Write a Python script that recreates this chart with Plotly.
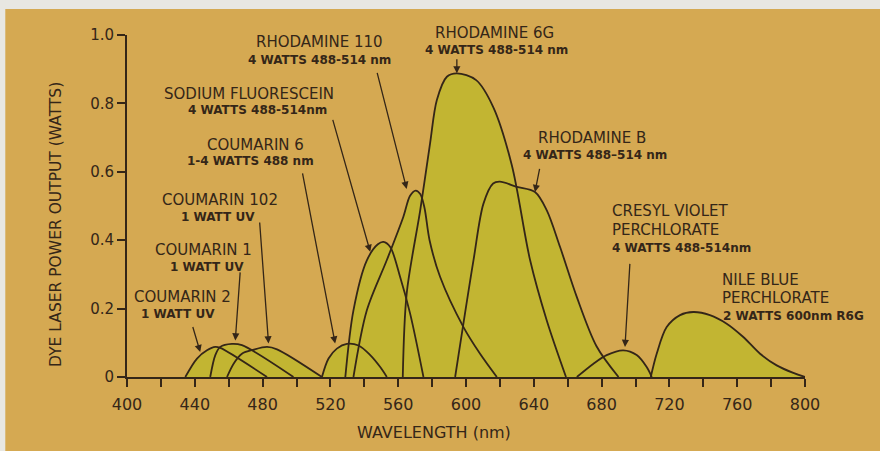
import plotly.graph_objects as go

# ---------------- data ----------------
coumarin2_nm = [434.4, 441.3, 447.2, 452.1, 455.0, 482.6]
coumarin2_w = [0.0, 0.054, 0.078, 0.088, 0.085, 0.0]

coumarin1_nm = [449.1, 452.1, 455.0, 461.9, 467.8, 498.2]
coumarin1_w = [0.0, 0.064, 0.088, 0.097, 0.093, 0.0]

coumarin102_nm = [459.0, 462.9, 467.8, 474.7, 482.6, 488.5, 515.0]
coumarin102_w = [0.0, 0.039, 0.068, 0.080, 0.088, 0.081, 0.0]

coumarin6_nm = [515.0, 518.9, 523.8, 529.7, 536.6, 543.5, 549.4, 553.3]
coumarin6_w = [0.0, 0.054, 0.083, 0.097, 0.092, 0.064, 0.029, 0.0]

fluorescein_nm = [528.8, 533.6, 541.5, 548.0, 551.3, 555.3, 561.1, 567.0, 574.9]
fluorescein_w = [0.0, 0.195, 0.341, 0.388, 0.395, 0.380, 0.293, 0.186, 0.0]

rhod110_nm = [533.6, 541.5, 553.3, 563.0, 567.0, 570.3, 573.0, 575.5, 578.5, 584.7, 598.5, 608.3, 618.2]
rhod110_w = [0.0, 0.195, 0.342, 0.468, 0.530, 0.545, 0.535, 0.495, 0.400, 0.293, 0.146, 0.068, 0.0]

rhod6g_nm = [562.7, 565.0, 573.0, 578.8, 582.8, 588.7, 594.6, 606.0, 616.0, 627.0, 637.8, 647.6, 659.0]
rhod6g_w = [0.0, 0.244, 0.488, 0.683, 0.810, 0.878, 0.888, 0.868, 0.790, 0.620, 0.342, 0.166, 0.0]

rhodb_nm = [593.6, 604.4, 610.3, 616.0, 620.0, 630.0, 640.7, 647.6, 655.5, 665.3, 677.0, 690.0]
rhodb_w = [0.0, 0.341, 0.507, 0.566, 0.571, 0.556, 0.541, 0.488, 0.380, 0.235, 0.090, 0.0]

cresyl_nm = [665.4, 675.2, 683.0, 692.8, 700.7, 706.6, 709.6]
cresyl_w = [0.0, 0.039, 0.064, 0.078, 0.064, 0.029, 0.0]

nile_nm = [709.0, 712.5, 718.4, 726.3, 734.1, 743.9, 753.8, 763.6, 773.5, 783.3, 793.1, 800.0]
nile_w = [0.0, 0.068, 0.146, 0.181, 0.190, 0.181, 0.156, 0.117, 0.068, 0.034, 0.012, 0.0]

x_tick_values = list(range(400, 801, 20))
x_tick_labels = [str(v) if v % 40 == 0 else "" for v in x_tick_values]
y_tick_values = [0, 0.2, 0.4, 0.6, 0.8, 1.0]
y_tick_labels = ["0", "0.2", "0.4", "0.6", "0.8", "1.0"]

curves = [
    (coumarin2_nm, coumarin2_w), (coumarin1_nm, coumarin1_w),
    (coumarin102_nm, coumarin102_w), (coumarin6_nm, coumarin6_w),
    (fluorescein_nm, fluorescein_w), (rhod110_nm, rhod110_w),
    (rhod6g_nm, rhod6g_w), (rhodb_nm, rhodb_w),
    (cresyl_nm, cresyl_w), (nile_nm, nile_w),
]

# ---------------- styles ----------------
BG = "rgb(213,169,82)"
FILL = "rgb(194,181,50)"
INK = "rgb(52,38,24)"
FONT = "DejaVu Sans"
X0, X1 = 400, 800

fig = go.Figure()
for xs, ys in curves:
    fig.add_trace(go.Scatter(x=xs, y=ys, mode="lines", fill="toself",
                             fillcolor=FILL, line=dict(width=0, shape="spline", smoothing=0.9),
                             hoverinfo="skip", showlegend=False))
for xs, ys in curves:
    fig.add_trace(go.Scatter(x=xs, y=ys, mode="lines",
                             line=dict(color=INK, width=1.8, shape="spline", smoothing=0.9),
                             hoverinfo="skip", showlegend=False, cliponaxis=False))

# label text lines: (text, wavelength position, power position, anchor, big)
labels = [
    ("RHODAMINE 110", 513.4, 0.980, "center", True),
    ("4 WATTS 488-514 nm", 513.4, 0.927, "center", False),
    ("RHODAMINE 6G", 616.6, 1.006, "center", True),
    ("4 WATTS 488-514 nm", 617.8, 0.955, "center", False),
    ("SODIUM FLUORESCEIN", 472.1, 0.827, "center", True),
    ("4 WATTS 488-514nm", 476.8, 0.781, "center", False),
    ("COUMARIN 6", 476.0, 0.678, "center", True),
    ("1-4 WATTS 488 nm", 473.1, 0.631, "center", False),
    ("COUMARIN 102", 455.0, 0.517, "center", True),
    ("1 WATT UV", 453.8, 0.467, "center", False),
    ("COUMARIN 1", 445.0, 0.371, "center", True),
    ("1 WATT UV", 447.4, 0.321, "center", False),
    ("COUMARIN 2", 432.6, 0.233, "center", True),
    ("1 WATT UV", 430.3, 0.184, "center", False),
    ("RHODAMINE B", 674.4, 0.699, "center", True),
    ("4 WATTS 488\u2013514 nm", 676.2, 0.649, "center", False),
    ("CRESYL VIOLET", 685.0, 0.484, "left", True),
    ("PERCHLORATE", 685.0, 0.429, "left", True),
    ("4 WATTS 488-514nm", 685.0, 0.377, "left", False),
    ("NILE BLUE", 749.9, 0.285, "left", True),
    ("PERCHLORATE", 749.9, 0.230, "left", True),
    ("2 WATTS 600nm R6G", 750.5, 0.179, "left", False),
]
for text, x, y, anchor, big in labels:
    fig.add_annotation(x=(x - X0) / (X1 - X0), y=y, xref="paper", yref="paper",
                       text=text if big else f"<b>{text}</b>",
                       showarrow=False, xanchor=anchor, yanchor="middle",
                       font=dict(family=FONT, size=15 if big else 12, color=INK))

# arrows: tip (x, y) and tail offset in pixels
arrows = [
    (565.0, 0.550, -30, -118),
    (594.6, 0.888, 0, -16),
    (543.5, 0.366, -38, -134),
    (522.8, 0.098, -33, -172),
    (483.5, 0.098, -9, -123),
    (463.9, 0.107, 5, -70),
    (443.2, 0.073, -8, -27),
    (640.7, 0.541, 5, -25),
    (693.8, 0.088, 5, -85),
]
for x, y, ax, ay in arrows:
    fig.add_annotation(x=x, y=y, xref="x", yref="y", text=" ", showarrow=True,
                       ax=ax, ay=ay, arrowhead=2, arrowsize=1.1, arrowwidth=1.3,
                       arrowcolor=INK, standoff=0, font=dict(size=1))

# axis titles
fig.add_annotation(x=(580.9 - X0) / (X1 - X0), y=-0.162, xref="paper", yref="paper",
                   text="WAVELENGTH (nm)", showarrow=False, xanchor="center", yanchor="middle",
                   font=dict(family=FONT, size=16, color=INK))
fig.add_annotation(x=-0.105, y=0.447, xref="paper", yref="paper",
                   text="DYE LASER POWER OUTPUT (WATTS)", textangle=-90,
                   xanchor="center", yanchor="middle",
                   showarrow=False, font=dict(family=FONT, size=15.5, color=INK))

# light scanner edges
fig.add_shape(type="rect", xref="paper", yref="paper", x0=-0.3, x1=1.3, y0=1.076, y1=1.3,
              fillcolor="rgb(232,231,226)", line=dict(width=0))
fig.add_shape(type="rect", xref="paper", yref="paper", x0=-0.3, x1=-0.1795, y0=-0.4, y1=1.3,
              fillcolor="rgb(232,231,226)", line=dict(width=0))

fig.update_layout(
    width=880, height=451,
    margin=dict(l=127, r=75, t=35, b=74),
    paper_bgcolor=BG, plot_bgcolor=BG,
    font=dict(family=FONT, color=INK),
    showlegend=False,
)
fig.update_xaxes(range=[X0, X1], tickvals=x_tick_values, ticktext=x_tick_labels,
                 ticks="outside", ticklen=8, tickwidth=1.5, tickcolor=INK,
                 showline=True, linecolor=INK, linewidth=2, showgrid=False, zeroline=False,
                 tickfont=dict(family=FONT, size=16, color=INK), ticklabelstandoff=4)
fig.update_yaxes(range=[0, 1.0], tickvals=y_tick_values, ticktext=y_tick_labels,
                 ticks="outside", ticklen=8, tickwidth=1.5, tickcolor=INK,
                 showline=True, linecolor=INK, linewidth=2, showgrid=False, zeroline=False,
                 tickfont=dict(family=FONT, size=15, color=INK))

fig.write_html("out.html", config={"displayModeBar": False},
               post_script="document.body.style.margin='0';document.body.style.padding='0';"
                           "document.documentElement.style.overflow='hidden';")
